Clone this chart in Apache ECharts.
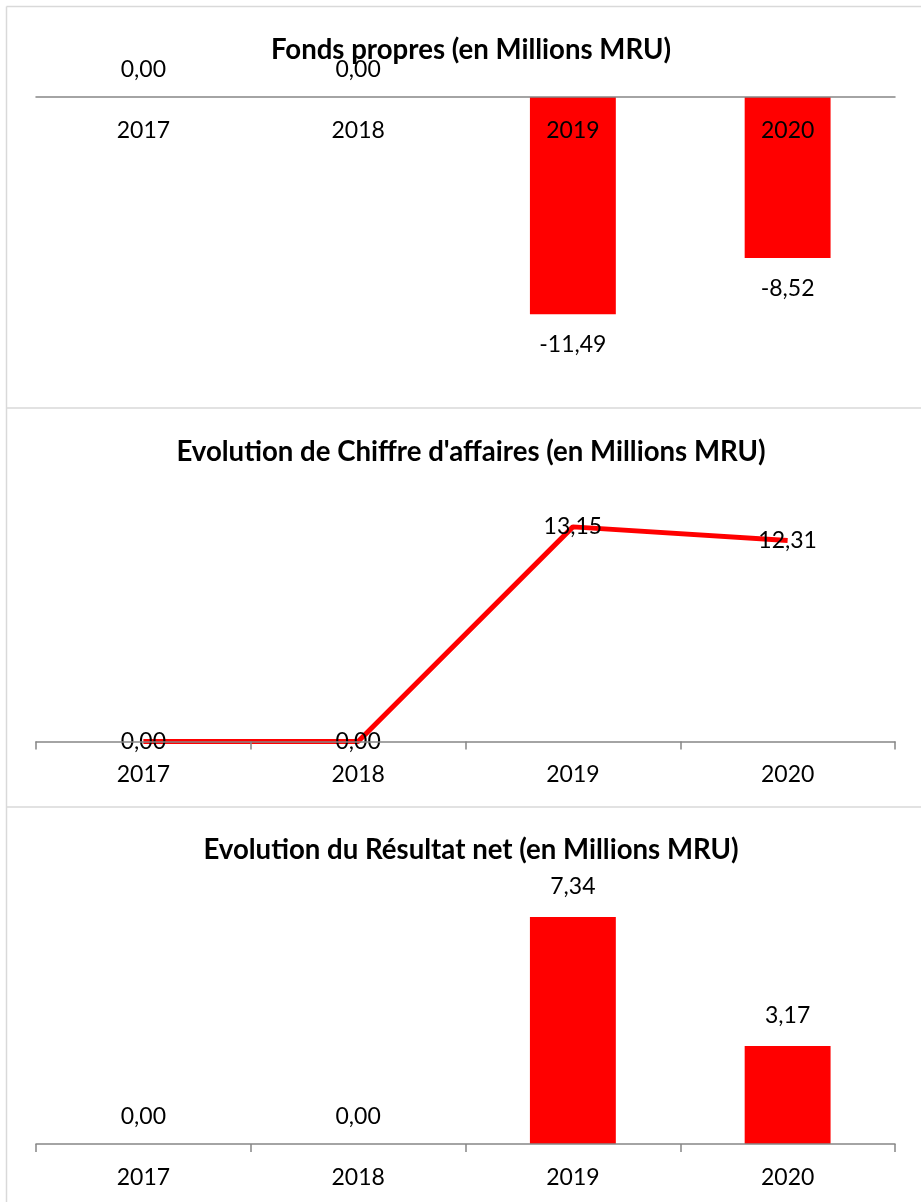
<!DOCTYPE html>
<html><head><meta charset="utf-8">
<script src="https://cdn.jsdelivr.net/npm/echarts@6/dist/echarts.min.js"></script>
<style>html,body{margin:0;padding:0;background:#fff}#c{width:921px;height:1202px}</style>
</head><body><div id="c"></div>
<script>
const categories = ['2017', '2018', '2019', '2020'];
const fondsPropres = [0, 0, -11.49, -8.52];
const chiffreAffaires = [0, 0, 13.15, 12.31];
const resultatNet = [0, 0, 7.34, 3.17];
const titles = [
  'Fonds propres (en Millions MRU)',
  "Evolution de Chiffre d'affaires (en Millions MRU)",
  'Evolution du Résultat net (en Millions MRU)'
];

const FONT = 'Lato, "Open Sans", sans-serif';
const FS = 23;
const RED = '#ff0000';
const fmt = v => v.toFixed(2).replace('.', ',');

function barData(arr) {
  return arr.map(v => ({
    value: v,
    label: { position: v < 0 ? 'bottom' : 'top', distance: v === 0 ? 16 : 19 }
  }));
}

const chart = echarts.init(document.getElementById('c'), null, { renderer: 'canvas' });
const axisLine = { onZero: false, lineStyle: { color: '#868686', width: 1.5 } };

chart.setOption({
  animation: false,
  title: titles.map((t, i) => ({
    text: t, left: 466, textAlign: 'center', top: [31, 433, 831][i],
    textStyle: { fontFamily: FONT, fontWeight: 'bold', fontSize: 27.6, color: '#000' }
  })),
  grid: [
    { left: 36, right: 26, top: 97, height: 264.6 },
    { left: 36, right: 26, top: 513, height: 228.5 },
    { left: 36, right: 26, top: 896.5, height: 247.5 }
  ],
  xAxis: [0, 1, 2].map(i => ({
    type: 'category', gridIndex: i, data: categories, z: 10,
    position: i === 0 ? 'top' : 'bottom',
    axisLine: axisLine,
    axisTick: { show: i !== 0, length: 8, lineStyle: { color: '#868686', width: 1.5 } },
    axisLabel: { color: '#000', fontFamily: FONT, fontSize: FS, margin: 22, inside: i === 0 }
  })),
  yAxis: [
    { gridIndex: 0, min: -14, max: 0, show: false },
    { gridIndex: 1, min: 0, max: 14, show: false },
    { gridIndex: 2, min: 0, max: 8, show: false }
  ],
  series: [
    {
      type: 'bar', xAxisIndex: 0, yAxisIndex: 0, data: barData(fondsPropres), z: 2,
      barWidth: '40%', itemStyle: { color: RED },
      label: { show: true, color: '#000', fontFamily: FONT, fontSize: FS, formatter: p => fmt(p.value) }
    },
    {
      type: 'line', xAxisIndex: 1, yAxisIndex: 1, data: chiffreAffaires,
      lineStyle: { color: RED, width: 5 }, itemStyle: { color: RED },
      symbol: 'circle', symbolSize: 0.1, showSymbol: true,
      label: { show: true, position: 'inside', color: '#000', fontFamily: FONT, fontSize: FS, formatter: p => fmt(p.value) }
    },
    {
      type: 'bar', xAxisIndex: 2, yAxisIndex: 2, data: barData(resultatNet),
      barWidth: '40%', itemStyle: { color: RED },
      label: { show: true, color: '#000', fontFamily: FONT, fontSize: FS, formatter: p => fmt(p.value) }
    }
  ],
  graphic: [
    { type: 'line', shape: { x1: 6.5, y1: 6.5, x2: 921, y2: 6.5 }, style: { stroke: '#d9d9d9', lineWidth: 1.5 } },
    { type: 'line', shape: { x1: 6.5, y1: 408, x2: 921, y2: 408 }, style: { stroke: '#d9d9d9', lineWidth: 1.5 } },
    { type: 'line', shape: { x1: 6.5, y1: 807, x2: 921, y2: 807 }, style: { stroke: '#d9d9d9', lineWidth: 1.5 } },
    { type: 'line', shape: { x1: 6.5, y1: 6.5, x2: 6.5, y2: 1202 }, style: { stroke: '#d9d9d9', lineWidth: 1.5 } }
  ]
});
</script></body></html>
